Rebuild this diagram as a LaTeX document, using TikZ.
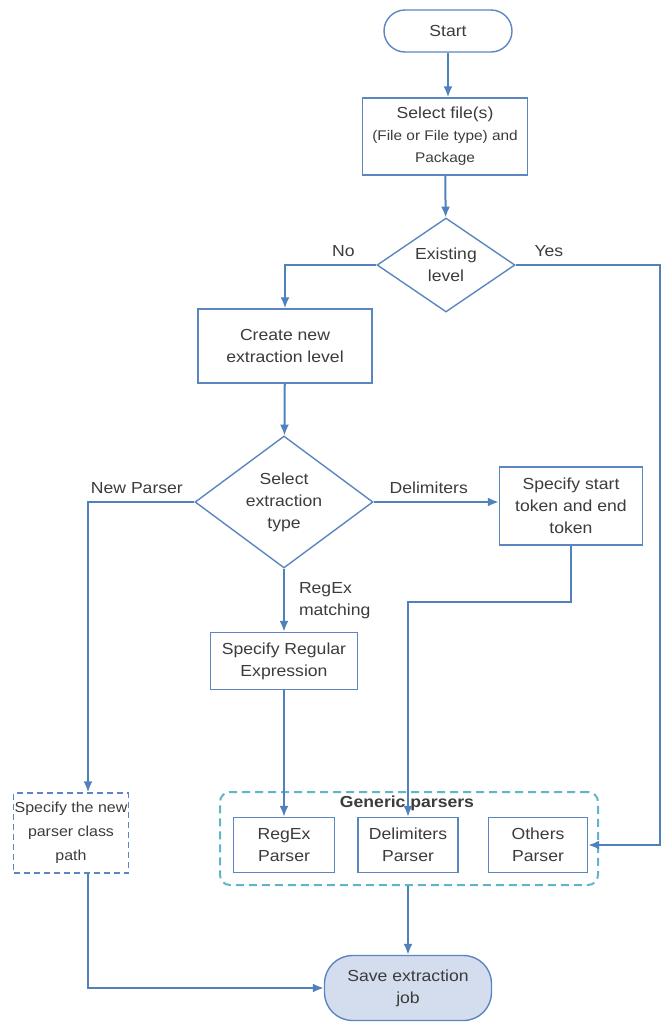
\documentclass[tikz,border=0pt]{standalone}
\usepackage{fontspec}
\setmainfont{Liberation Sans}[FakeStretch=1.1]
\usepackage{tikz}
\usetikzlibrary{arrows.meta,positioning,fit,backgrounds,shapes.geometric}
\definecolor{flowblue}{HTML}{4F81BD}
\definecolor{boxblue}{HTML}{5B86C0}
\definecolor{aquadash}{HTML}{62B4C8}
\definecolor{savefill}{HTML}{D3DDEE}
\definecolor{txtgray}{HTML}{3C3C3C}

\begin{document}
\begin{tikzpicture}[x=1pt, y=-1pt,
  font=\fontsize{16}{22}\selectfont, text=txtgray,
  box/.style={draw=boxblue, line width=1.4pt, align=center, inner sep=2pt, fill=white},
  term/.style={box, rounded corners=21pt, minimum width=128pt, minimum height=42pt},
  decision/.style={diamond, draw=boxblue, line width=1.4pt, align=center, inner sep=0pt},
  arr/.style={-{Latex[length=11pt,width=9pt]}, draw=flowblue, line width=2pt},
  lbl/.style={inner sep=2pt},
]
\useasboundingbox (0,0) rectangle (664,1026);

% main column
\node[term] (start) at (448,31) {Start};
\node[box, minimum width=165pt, minimum height=77pt] (sel) at (445,136.5)
  {Select file(s)\\{\fontsize{14}{22}\selectfont(File or File type) and}\\{\fontsize{14}{22}\selectfont Package}};
\node[decision, minimum width=138pt, minimum height=94pt, aspect=1.47] (exist) at (446,265) {Existing\\level};
\node[box, minimum width=174pt, minimum height=74pt] (create) at (285,346) {Create new\\extraction level};
\node[decision, minimum width=178pt, minimum height=132pt, aspect=1.35] (extype) at (284,502) {Select\\extraction\\type};
\node[box, minimum width=143pt, minimum height=78pt] (delim) at (571,506) {Specify start\\token and end\\token};
\node[box, minimum width=147pt, minimum height=57pt] (regex) at (284,661) {Specify Regular\\Expression};
\node[box, dashed, dash pattern=on 6pt off 4pt, minimum width=108pt, minimum height=80pt,
      font=\fontsize{14.5}{24}\selectfont, inner sep=1pt] (newp) at (71,833)
  {Specify the new\\parser class\\path};

% generic parsers
\node[box, minimum width=101pt, minimum height=55pt] (rxp) at (284,845) {RegEx\\Parser};
\node[box, minimum width=100pt, minimum height=55pt] (dlp) at (408,845) {Delimiters\\Parser};
\node[box, minimum width=99pt, minimum height=55pt] (otp) at (538,845) {Others\\Parser};
\node[font=\fontsize{16}{20}\selectfont\bfseries, inner sep=0pt] (gtitle) at (407,803) {Generic parsers};
\begin{scope}[on background layer]
\node[draw=aquadash, line width=2pt, dash pattern=on 8pt off 5pt, rounded corners=10pt,
      inner sep=0pt, fit={(220,792) (598,885)}] (generic) {};
\end{scope}

\node[box, fill=savefill, rounded corners=28pt, minimum width=167pt, minimum height=65pt] (save) at (408,988)
  {Save extraction\\job};

% bends
\coordinate (yesc) at (660,265);
\coordinate (npc) at (88,502);

\draw[arr] (start.south) -- (start.south |- sel.north);
\draw[arr] (sel) -- (exist);
\draw[arr] (exist.west) -| node[lbl, above, pos=0.18, yshift=5pt] {No} (create.north);
\draw[arr] (exist.east) -- node[lbl, above, pos=0.23, yshift=5pt] {Yes} (yesc) |- (otp.east);
\draw[arr] (create) -- (extype);
\draw[arr] (extype.west) -- node[lbl, above, pos=0.54, yshift=5pt] {New Parser} (npc) -- (npc |- newp.north);
\draw[arr] (extype.east) -- node[lbl, above, pos=0.44, yshift=5pt] {Delimiters} (extype.east -| delim.west);
\draw[arr] (extype.south) -- node[lbl, right, align=left, pos=0.5, xshift=12pt] {RegEx\\matching} (regex.north);
\draw[arr] (regex) -- (rxp);
\draw[arr] (delim.south) -- ++(0,56) -| (dlp.north);
\draw[arr] (generic.south -| save.north) -- (save.north);
\draw[arr] (npc |- newp.south) |- (save.west);
\end{tikzpicture}
\end{document}
